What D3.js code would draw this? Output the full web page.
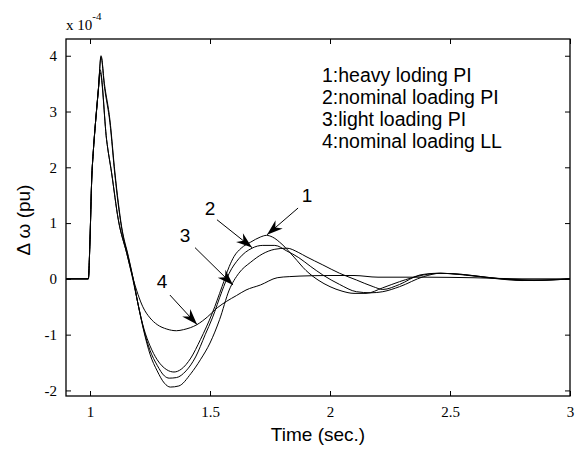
<!DOCTYPE html>
<html>
<head>
<meta charset="utf-8">
<script src="https://cdn.jsdelivr.net/npm/d3@7"></script>
<style>
body { margin: 0; background: #fff; }
</style>
</head>
<body>
<div id="chart"></div>
<script>
// axis ticks: time in sec., delta omega in units of 1e-4 pu
var xTicks = [1, 1.5, 2, 2.5, 3];
var yTicks = [-2, -1, 0, 1, 2, 3, 4];

// 1: heavy loading PI
var time1 = [0.9, 0.993, 1.0, 1.007, 1.014, 1.021, 1.035, 1.046, 1.06, 1.083, 1.104, 1.132, 1.16, 1.18, 1.2, 1.225, 1.25, 1.28, 1.32, 1.35, 1.38, 1.42, 1.46, 1.51, 1.55, 1.58, 1.6, 1.63, 1.67, 1.71, 1.735, 1.76, 1.8, 1.85, 1.9, 1.95, 2.0, 2.05, 2.1, 2.15, 2.22, 2.29, 2.39, 2.46, 2.6, 2.7, 2.8, 2.9, 3.0];
var dw1 = [0, 0, 0.7, 1.77, 2.3, 2.7, 3.4, 4.0, 3.5, 2.85, 1.9, 0.93, 0.4, 0.0, -0.45, -0.9, -1.2, -1.45, -1.63, -1.67, -1.62, -1.42, -1.09, -0.61, -0.14, 0.22, 0.4, 0.55, 0.66, 0.75, 0.78, 0.75, 0.62, 0.39, 0.15, -0.02, -0.14, -0.22, -0.26, -0.26, -0.16, -0.05, 0.07, 0.1, 0.05, 0, -0.03, -0.02, 0];

// 2: nominal loading PI
var time2 = [0.9, 0.993, 1.0, 1.007, 1.014, 1.021, 1.035, 1.046, 1.06, 1.083, 1.104, 1.132, 1.16, 1.18, 1.2, 1.225, 1.25, 1.28, 1.31, 1.33, 1.36, 1.4, 1.44, 1.48, 1.51, 1.55, 1.58, 1.62, 1.675, 1.72, 1.77, 1.82, 1.87, 1.92, 1.97, 2.04, 2.11, 2.17, 2.22, 2.29, 2.39, 2.46, 2.55, 2.65, 2.75, 2.85, 3.0];
var dw2 = [0, 0, 0.7, 1.77, 2.3, 2.7, 3.4, 3.98, 3.45, 2.8, 1.85, 0.9, 0.38, 0.0, -0.45, -0.93, -1.28, -1.55, -1.74, -1.78, -1.77, -1.65, -1.4, -1.0, -0.7, -0.22, 0.1, 0.36, 0.55, 0.6, 0.6, 0.5, 0.38, 0.22, 0.07, -0.1, -0.23, -0.25, -0.23, -0.14, 0.04, 0.1, 0.08, 0.03, -0.01, -0.03, 0];

// 3: light loading PI
var time3 = [0.9, 0.993, 1.0, 1.007, 1.014, 1.021, 1.035, 1.042, 1.069, 1.09, 1.118, 1.153, 1.178, 1.2, 1.225, 1.25, 1.28, 1.31, 1.335, 1.37, 1.42, 1.46, 1.5, 1.54, 1.58, 1.62, 1.67, 1.72, 1.77, 1.82, 1.87, 1.9, 1.97, 2.04, 2.11, 2.18, 2.22, 2.29, 2.375, 2.45, 2.55, 2.65, 2.75, 2.9, 3.0];
var dw3 = [0, 0, 0.7, 1.77, 2.3, 2.7, 3.4, 3.75, 2.5, 1.9, 1.06, 0.46, 0.0, -0.45, -0.95, -1.35, -1.65, -1.87, -1.94, -1.92, -1.7, -1.45, -1.15, -0.73, -0.2, 0.1, 0.3, 0.45, 0.53, 0.55, 0.47, 0.4, 0.25, 0.1, -0.02, -0.14, -0.19, -0.1, 0.07, 0.1, 0.08, 0.03, -0.01, -0.02, 0];

// 4: nominal loading LL
var time4 = [0.9, 0.993, 1.0, 1.007, 1.014, 1.021, 1.035, 1.042, 1.069, 1.09, 1.118, 1.153, 1.18, 1.2, 1.22, 1.25, 1.28, 1.32, 1.36, 1.39, 1.446, 1.49, 1.53, 1.57, 1.61, 1.65, 1.71, 1.78, 1.83, 1.875, 2.0, 2.1, 2.2, 2.4, 2.6, 2.8, 3.0];
var dw4 = [0, 0, 0.7, 1.77, 2.3, 2.7, 3.4, 3.7, 2.5, 1.9, 1.06, 0.46, 0.0, -0.28, -0.5, -0.7, -0.82, -0.9, -0.93, -0.91, -0.82, -0.68, -0.52, -0.4, -0.3, -0.2, -0.11, 0.02, 0.04, 0.05, 0.06, 0.06, 0.03, 0.03, 0.02, 0.0, 0];

var legendLines = ["1:heavy loding PI", "2:nominal loading PI", "3:light loading PI", "4:nominal loading LL"];

// curve number labels with their arrows, in data units
var curveIds = ["1", "2", "3", "4"];
var labelTime = [1.904, 1.5, 1.396, 1.3];
var labelDw = [1.49, 1.27, 0.77, -0.05];
var arrowFromTime = [1.867, 1.529, 1.4375, 1.333];
var arrowFromDw = [1.27, 1.06, 0.56, -0.29];
var arrowToTime = [1.7375, 1.675, 1.596, 1.446];
var arrowToDw = [0.79, 0.56, -0.11, -0.82];

function drawChart() {

    var width = 576, height = 449;
    var plotLeft = 66, plotRight = 570, plotTop = 39, plotBottom = 396;

    var svg = d3.select("#chart").append("svg")
        .attr("width", width)
        .attr("height", height);

    var x = d3.scaleLinear().domain([0.9, 3]).range([plotLeft, plotRight]);
    var y = d3.scaleLinear().domain([-2.1, 4.3]).range([plotBottom, plotTop]);

    var serif = "'Liberation Serif', 'Times New Roman', serif";
    var sans = "'Liberation Sans', Arial, sans-serif";

    // plain hyphen minus, like the original figure
    var plain = function (d) { return String(d); };

    function styleAxis(g, showText) {
        g.select(".domain").remove();
        g.selectAll(".tick line").attr("stroke", "#000").attr("stroke-width", 1);
        g.selectAll(".tick text")
            .attr("fill", "#000")
            .style("font-family", serif)
            .style("font-size", "15px");
        if (!showText) g.selectAll(".tick text").remove();
    }

    svg.append("g")
        .attr("transform", "translate(0," + plotBottom + ")")
        .call(d3.axisBottom(x).tickValues(xTicks).tickFormat(plain).tickSizeInner(-5).tickSizeOuter(0).tickPadding(10))
        .call(styleAxis, true);

    svg.append("g")
        .attr("transform", "translate(0," + plotTop + ")")
        .call(d3.axisTop(x).tickValues(xTicks).tickSizeInner(-5).tickSizeOuter(0))
        .call(styleAxis, false);

    svg.append("g")
        .attr("transform", "translate(" + plotLeft + ",0)")
        .call(d3.axisLeft(y).tickValues(yTicks).tickFormat(plain).tickSizeInner(-5).tickSizeOuter(0).tickPadding(9))
        .call(styleAxis, true);

    svg.append("g")
        .attr("transform", "translate(" + plotRight + ",0)")
        .call(d3.axisRight(y).tickValues(yTicks).tickSizeInner(-5).tickSizeOuter(0))
        .call(styleAxis, false);

    svg.append("rect")
        .attr("x", plotLeft)
        .attr("y", plotTop)
        .attr("width", plotRight - plotLeft)
        .attr("height", plotBottom - plotTop)
        .attr("fill", "none")
        .attr("stroke", "#000")
        .attr("stroke-width", 1.3);

    // curves
    var series = [[time1, dw1], [time2, dw2], [time3, dw3], [time4, dw4]];

    var line = d3.line()
        .x(function (d) { return x(d[0]); })
        .y(function (d) { return y(d[1]); })
        .curve(d3.curveMonotoneX);

    svg.append("g")
        .selectAll("path")
        .data(series)
        .enter()
        .append("path")
        .attr("d", function (s) {
            return line(s[0].map(function (t, i) { return [t, s[1][i]]; }));
        })
        .attr("fill", "none")
        .attr("stroke", "#000")
        .attr("stroke-width", 1);

    // arrow heads
    svg.append("defs").append("marker")
        .attr("id", "head")
        .attr("viewBox", "-17 -6 18 12")
        .attr("refX", 0)
        .attr("refY", 0)
        .attr("markerWidth", 18)
        .attr("markerHeight", 12)
        .attr("markerUnits", "userSpaceOnUse")
        .attr("orient", "auto")
        .append("path")
        .attr("d", "M0,0 L-16,-5.5 L-11,0 L-16,5.5 Z")
        .attr("fill", "#000");

    var notes = svg.append("g");

    curveIds.forEach(function (id, i) {
        notes.append("line")
            .attr("x1", x(arrowFromTime[i]))
            .attr("y1", y(arrowFromDw[i]))
            .attr("x2", x(arrowToTime[i]))
            .attr("y2", y(arrowToDw[i]))
            .attr("stroke", "#000")
            .attr("stroke-width", 1)
            .attr("marker-end", "url(#head)");

        notes.append("text")
            .attr("x", x(labelTime[i]))
            .attr("y", y(labelDw[i]))
            .attr("text-anchor", "middle")
            .attr("dominant-baseline", "central")
            .style("font-family", sans)
            .style("font-size", "19px")
            .text(id);
    });

    // legend text
    svg.append("g")
        .selectAll("text")
        .data(legendLines)
        .enter()
        .append("text")
        .attr("x", 322)
        .attr("y", function (d, i) { return 82 + i * 22; })
        .style("font-family", sans)
        .style("font-size", "19.5px")
        .text(function (d) { return d; });

    // exponent label
    var expo = svg.append("text")
        .attr("x", plotLeft)
        .attr("y", 30)
        .style("font-family", serif)
        .style("font-size", "15px");
    expo.append("tspan").text("x 10");
    expo.append("tspan").attr("dy", -10).style("font-size", "11px").text("-4");

    svg.append("text")
        .attr("x", (plotLeft + plotRight) / 2)
        .attr("y", 441)
        .attr("text-anchor", "middle")
        .style("font-family", sans)
        .style("font-size", "19px")
        .text("Time (sec.)");

    svg.append("text")
        .attr("transform", "translate(30,220) rotate(-90)")
        .attr("text-anchor", "middle")
        .style("font-family", sans)
        .style("font-size", "19px")
        .text("Δ ω (pu)");
}

drawChart();
</script>
</body>
</html>
